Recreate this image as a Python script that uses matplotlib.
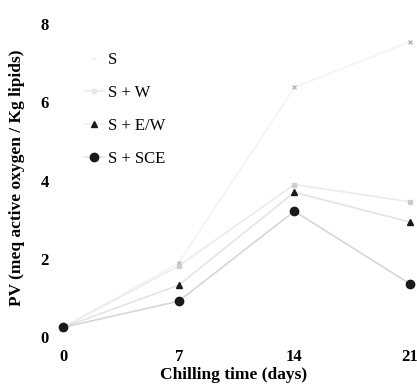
import matplotlib
matplotlib.use("Agg")
import matplotlib.pyplot as plt
from matplotlib.lines import Line2D

days = [0, 7, 14, 21]
s_vals = [0.25, 1.9, 6.38, 7.55]
sw_vals = [0.25, 1.82, 3.9, 3.46]
sew_vals = [0.25, 1.33, 3.7, 2.94]
sce_vals = [0.25, 0.92, 3.22, 1.36]
xticks = [0, 7, 14, 21]
yticks = [0, 2, 4, 6, 8]
labels = ["S", "S + W", "S + E/W", "S + SCE"]

plt.rcParams['font.family'] = ['Liberation Serif', 'DejaVu Serif']

fig = plt.figure(figsize=(4.17, 3.85), dpi=100)
ax = fig.add_axes([50/417, 1-345/385, 367/417, 335/385])
ax.set_xlim(-0.79, 21.42)
ax.set_ylim(-0.2, 8.36)

ax.plot(days, s_vals, color='#f4f4f4', lw=1.2, marker='x', ms=3, mec='#b8b8b8', zorder=2)
ax.plot(days, sw_vals, color='#ebebeb', lw=1.2, marker='s', ms=2.5, mfc='#cccccc', mec='#cccccc', zorder=2)
ax.plot(days, sew_vals, color='#e4e4e4', lw=1.2, marker='^', ms=5, mfc='#1a1a1a', mec='#1a1a1a', zorder=3)
ax.plot(days, sce_vals, color='#d6d6d6', lw=1.2, marker='o', ms=6, mfc='#1a1a1a', mec='#1a1a1a', zorder=4)

for s in ax.spines.values():
    s.set_visible(False)
ax.set_xticks(xticks)
ax.set_yticks(yticks)
ax.tick_params(length=0)
ax.tick_params(axis='x', pad=3)
ax.tick_params(axis='y', pad=1)
for t in ax.get_xticklabels() + ax.get_yticklabels():
    t.set_fontweight('bold')
    t.set_fontsize(12)
ax.set_xlabel("Chilling time (days)", fontsize=12.5, fontweight='bold', labelpad=1)
ax.set_ylabel("PV (meq active oxygen / Kg lipids)", fontsize=12.5, fontweight='bold', labelpad=11)

handles = [
    Line2D([], [], color='none', marker='x', ms=3, mec='#f4f4f4'),
    Line2D([], [], color='#f0f0f0', marker='s', ms=2.5, mfc='#e8e8e8', mec='#e8e8e8'),
    Line2D([], [], color='#f2f2f2', marker='^', ms=5, mfc='#1a1a1a', mec='#1a1a1a'),
    Line2D([], [], color='#e8e8e8', marker='o', ms=6, mfc='#1a1a1a', mec='#1a1a1a'),
]
leg = ax.legend(handles, labels, loc='upper left', bbox_to_anchor=(0.055, 0.92),
                frameon=False, fontsize=12, handlelength=1.1, handletextpad=0.25,
                labelspacing=1.02)

fig.savefig("out.png", dpi=100)
